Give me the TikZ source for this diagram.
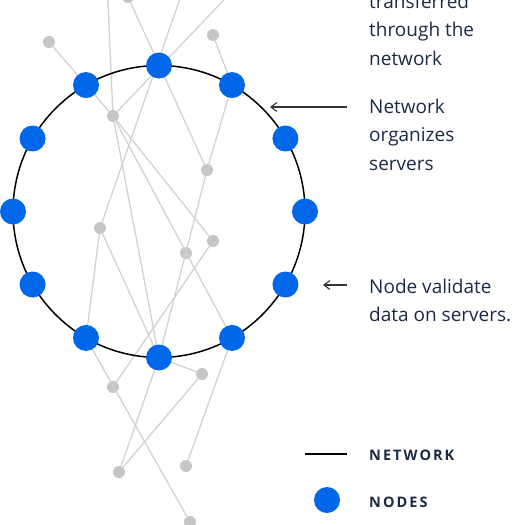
\documentclass[tikz,border=0pt]{standalone}
\usepackage{fontspec}
\usepackage{xcolor}
\usepackage{tikz}
\usetikzlibrary{arrows.meta, positioning, calc}
\newfontfamily\labelfont{Open Sans}
\definecolor{nodeblue}{HTML}{0068E8}
\definecolor{linkgray}{HTML}{D2D2D2}
\definecolor{dotgray}{HTML}{C6C6C6}
\definecolor{inkblue}{HTML}{1B2A44}

\begin{document}
\begin{tikzpicture}[
  x=1pt, y=-1pt,
  link/.style={draw=linkgray, line width=1.3pt},
  dot/.style={circle, fill=dotgray, inner sep=0pt, minimum size=12pt},
  peer/.style={circle, fill=nodeblue, inner sep=0pt, minimum size=26pt},
  ring/.style={draw=black, line width=1.5pt},
  txt/.style={anchor=base west, align=left, inner sep=0pt, text=inkblue,
    font=\labelfont\fontsize{19}{28.5}\selectfont},
  key/.style={anchor=base west, inner sep=0pt, text=inkblue,
    font=\labelfont\bfseries\fontsize{14.5}{16}\selectfont\addfontfeature{LetterSpace=14}},
  pointer/.style={->, >={Straight Barb[length=6pt, width=9pt]}, line width=1.1pt, black!80},
]
\useasboundingbox (0,0) rectangle (525,525);
\clip (0,0) rectangle (525,525);

\coordinate (c) at (159,211.5);
% gray servers
\node[dot] (g1) at (49,42) {};
\node[dot] (g2) at (213,35) {};
\node[dot] (g3) at (113,116) {};
\node[dot] (g4) at (207,170) {};
\node[dot] (g5) at (100,228) {};
\node[dot] (g6) at (186,253) {};
\node[dot] (g7) at (213,241) {};
\node[dot] (g8) at (202,374) {};
\node[dot] (g9) at (113,387) {};
\node[dot] (g10) at (119,472) {};
\node[dot] (g11) at (186,466) {};
\node[dot] (g12) at (190,522) {};
\node[dot] (g13) at (128,-3) {};
\coordinate (t1) at (107,-20);
\coordinate (t2) at (186.5,-20);
\coordinate (t3) at (243,-20);

% ring positions
\foreach \i in {0,...,11}
  \coordinate (n\i) at ($(c)+({30*\i}:146 and -146)$);

% links
\draw[link] (g1) -- (g3);
\draw[link] (g13) -- (g4);
\draw[link] (t2) -- (g5);
\draw[link] (t3) -- (g3);
\draw[link] (t1) -- (g3);
\draw[link] (g3) -- (n9);
\draw[link] (g3) -- (n10);
\draw[link] (g3) -- (g7);
\draw[link] (g5) -- (n8);
\draw[link] (g5) -- (n9);
\draw[link] (g2) -- (n2);
\draw[link] (n2) -- (g4);
\draw[link] (g4) -- (n9);
\draw[link] (g7) -- (g9);
\draw[link] (n8) -- (g12);
\draw[link] (n9) -- (g8);
\draw[link] (n9) -- (g10);
\draw[link] (g8) -- (g10);
\draw[link] (n10) -- (g11);

% network ring and nodes
\draw[ring] (c) circle (146pt);
\foreach \i in {0,...,11}
  \node[peer] (p\i) at (n\i) {};

% labels (base = last line)
\node[txt] (l1) at (369,65) {transferred\\through the\\network};
\node[txt] (l2) at (369,170) {Network\\organizes\\servers};
\node[txt] (l3) at (369,321.5) {Node validate\\data on servers.};
\coordinate (a1) at (347,107);
\coordinate (a2) at (347,285);
\draw[pointer] (a1) -- ++(-77,0);
\draw[pointer] (a2) -- ++(-24,0);

% legend
\node[key] (k1) at (369,460) {NETWORK};
\node[key] (k2) at (369,507) {NODES};
\coordinate (s1) at (305,454);
\draw[line width=1.5pt] (s1) -- ++(42,0);
\node[peer] (k3) at (327,500) {};
\end{tikzpicture}
\end{document}
